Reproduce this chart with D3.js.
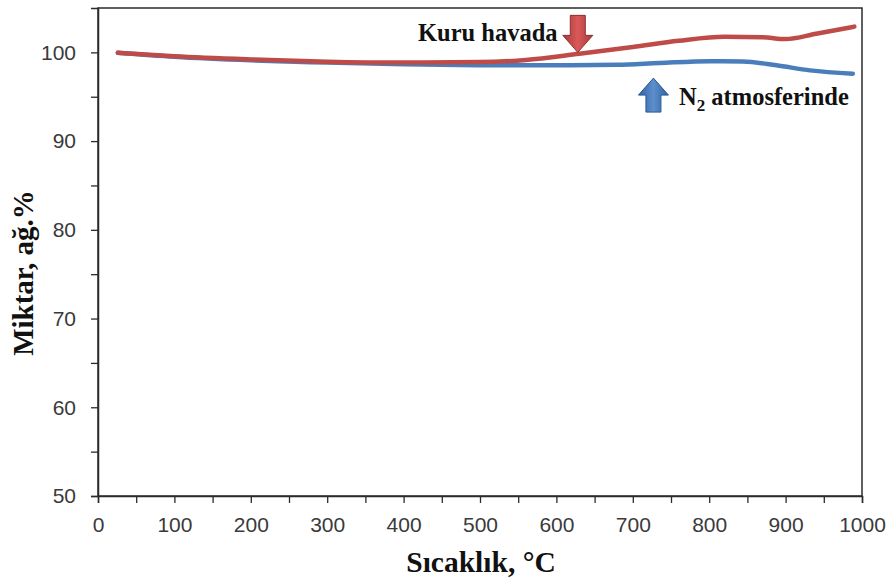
<!DOCTYPE html>
<html>
<head>
<meta charset="utf-8">
<script src="https://cdn.jsdelivr.net/npm/d3@7"></script>
<style>
  html, body { margin: 0; padding: 0; background: #fff; }
  svg { display: block; }
</style>
</head>
<body>
<svg id="chart" width="891" height="582"></svg>
<script>
// Temperature (°C) and mass (wt.%) readings for the two atmospheres
const airTemps   = [26, 100, 200, 300, 400, 500, 560, 630, 700, 760, 820, 870, 900, 940, 990];
const airMass    = [99.95, 99.55, 99.2, 98.95, 98.85, 98.9, 99.15, 99.85, 100.6, 101.3, 101.75, 101.7, 101.5, 102.1, 102.9];
const n2Temps    = [26, 100, 200, 300, 400, 500, 604, 680, 735, 801, 844, 888, 932, 988];
const n2Mass     = [99.95, 99.5, 99.1, 98.85, 98.65, 98.55, 98.54, 98.6, 98.8, 99.0, 98.98, 98.54, 97.97, 97.6];

const xTicks = [0, 100, 200, 300, 400, 500, 600, 700, 800, 900, 1000];
const yTicks = [50, 60, 70, 80, 90, 100];

const svg = d3.select("#chart");
const plotLeft = 98, plotRight = 862, plotTop = 8, plotBottom = 496;

const x = d3.scaleLinear().domain([0, 1000]).range([plotLeft, plotRight]);
const y = d3.scaleLinear().domain([50, 105]).range([plotBottom, plotTop]);

const defs = svg.append("defs");
function arrowGradient(id, light, dark) {
  const g = defs.append("linearGradient").attr("id", id)
    .attr("x1", "0").attr("x2", "1").attr("y1", "0").attr("y2", "0");
  g.append("stop").attr("offset", "0").attr("stop-color", dark);
  g.append("stop").attr("offset", "0.5").attr("stop-color", light);
  g.append("stop").attr("offset", "1").attr("stop-color", dark);
}
arrowGradient("gRed", "#d9595a", "#a83a38");
arrowGradient("gBlue", "#5d8fcc", "#2f62a4");

// Plot frame
svg.append("rect")
  .attr("x", plotLeft).attr("y", plotTop)
  .attr("width", plotRight - plotLeft).attr("height", plotBottom - plotTop)
  .attr("fill", "none").attr("stroke", "#2b2b2b").attr("stroke-width", 1.5);

const tickFont = "'Liberation Sans', Arial, sans-serif";

// X axis (major + minor ticks)
const xAxis = svg.append("g").attr("transform", `translate(0,${plotBottom})`)
  .call(d3.axisBottom(x).tickValues(d3.range(0, 1001, 50)).tickSize(7)
    .tickFormat(d => xTicks.includes(d) ? d : ""));
xAxis.select(".domain").attr("stroke", "#2b2b2b").attr("stroke-width", 1.5);
xAxis.selectAll(".tick line").attr("stroke", "#2b2b2b").attr("stroke-width", 1.3);
xAxis.selectAll(".tick text")
  .attr("font-family", tickFont).attr("font-size", 21).attr("fill", "#3a3a3a").attr("y", 21).attr("dy", "0.72em");

// Y axis (major + minor ticks)
const yAxis = svg.append("g").attr("transform", `translate(${plotLeft},0)`)
  .call(d3.axisLeft(y).tickValues(d3.range(50, 101, 5)).tickSize(7)
    .tickFormat(d => yTicks.includes(d) ? d : ""));
yAxis.select(".domain").attr("stroke", "#2b2b2b").attr("stroke-width", 1.5);
yAxis.selectAll(".tick line").attr("stroke", "#2b2b2b").attr("stroke-width", 1.3);
yAxis.selectAll(".tick text")
  .attr("font-family", tickFont).attr("font-size", 21).attr("fill", "#3a3a3a").attr("x", -22);

// Curves
const line = d3.line().x(d => x(d[0])).y(d => y(d[1])).curve(d3.curveMonotoneX);
const n2Data = n2Temps.map((t, i) => [t, n2Mass[i]]);
const airData = airTemps.map((t, i) => [t, airMass[i]]);

svg.append("path").datum(n2Data).attr("d", line)
  .attr("fill", "none").attr("stroke", "#4a7ebb").attr("stroke-width", 4.5).attr("stroke-linecap", "round");
svg.append("path").datum(airData).attr("d", line)
  .attr("fill", "none").attr("stroke", "#be4b48").attr("stroke-width", 4.5).attr("stroke-linecap", "round");

// Block arrows pointing at each curve
function blockArrow(tipX, tipY, length, dir, fill, stroke) {
  // dir = 1 points down, -1 points up
  const shaftW = 15, headW = 30, headL = 17;
  const s = dir;
  const base = tipY - s * length, neck = tipY - s * headL;
  const pts = [
    [tipX - shaftW / 2, base], [tipX + shaftW / 2, base],
    [tipX + shaftW / 2, neck], [tipX + headW / 2, neck],
    [tipX, tipY], [tipX - headW / 2, neck], [tipX - shaftW / 2, neck]
  ];
  svg.append("path").attr("d", "M" + pts.map(p => p.join(",")).join("L") + "Z")
    .attr("fill", fill).attr("stroke", stroke).attr("stroke-width", 1);
}
blockArrow(x(628), y(100.0), 37, 1, "url(#gRed)", "#8e2f2d");
blockArrow(x(727), y(97.1), 34, -1, "url(#gBlue)", "#2a5a96");

const serif = "'Liberation Serif', 'Times New Roman', serif";

svg.append("text")
  .attr("x", 418).attr("y", 41)
  .attr("font-family", serif).attr("font-weight", "bold").attr("font-size", 24.5)
  .attr("fill", "#111")
  .text("Kuru havada");

const n2Label = svg.append("text")
  .attr("x", 679).attr("y", 105)
  .attr("font-family", serif).attr("font-weight", "bold").attr("font-size", 24.5)
  .attr("fill", "#111");
n2Label.append("tspan").text("N");
n2Label.append("tspan").attr("font-size", 17).attr("dy", 6).text("2");
n2Label.append("tspan").attr("dy", -6).text(" atmosferinde");

// Axis titles
svg.append("text")
  .attr("x", 481).attr("y", 572).attr("text-anchor", "middle")
  .attr("font-family", serif).attr("font-weight", "bold").attr("font-size", 29.5)
  .attr("fill", "#111")
  .text("Sıcaklık, °C");

svg.append("text")
  .attr("transform", "translate(33,273) rotate(-90)")
  .attr("text-anchor", "middle")
  .attr("font-family", serif).attr("font-weight", "bold").attr("font-size", 29)
  .attr("fill", "#111")
  .text("Miktar, ağ.%");
</script>
</body>
</html>
